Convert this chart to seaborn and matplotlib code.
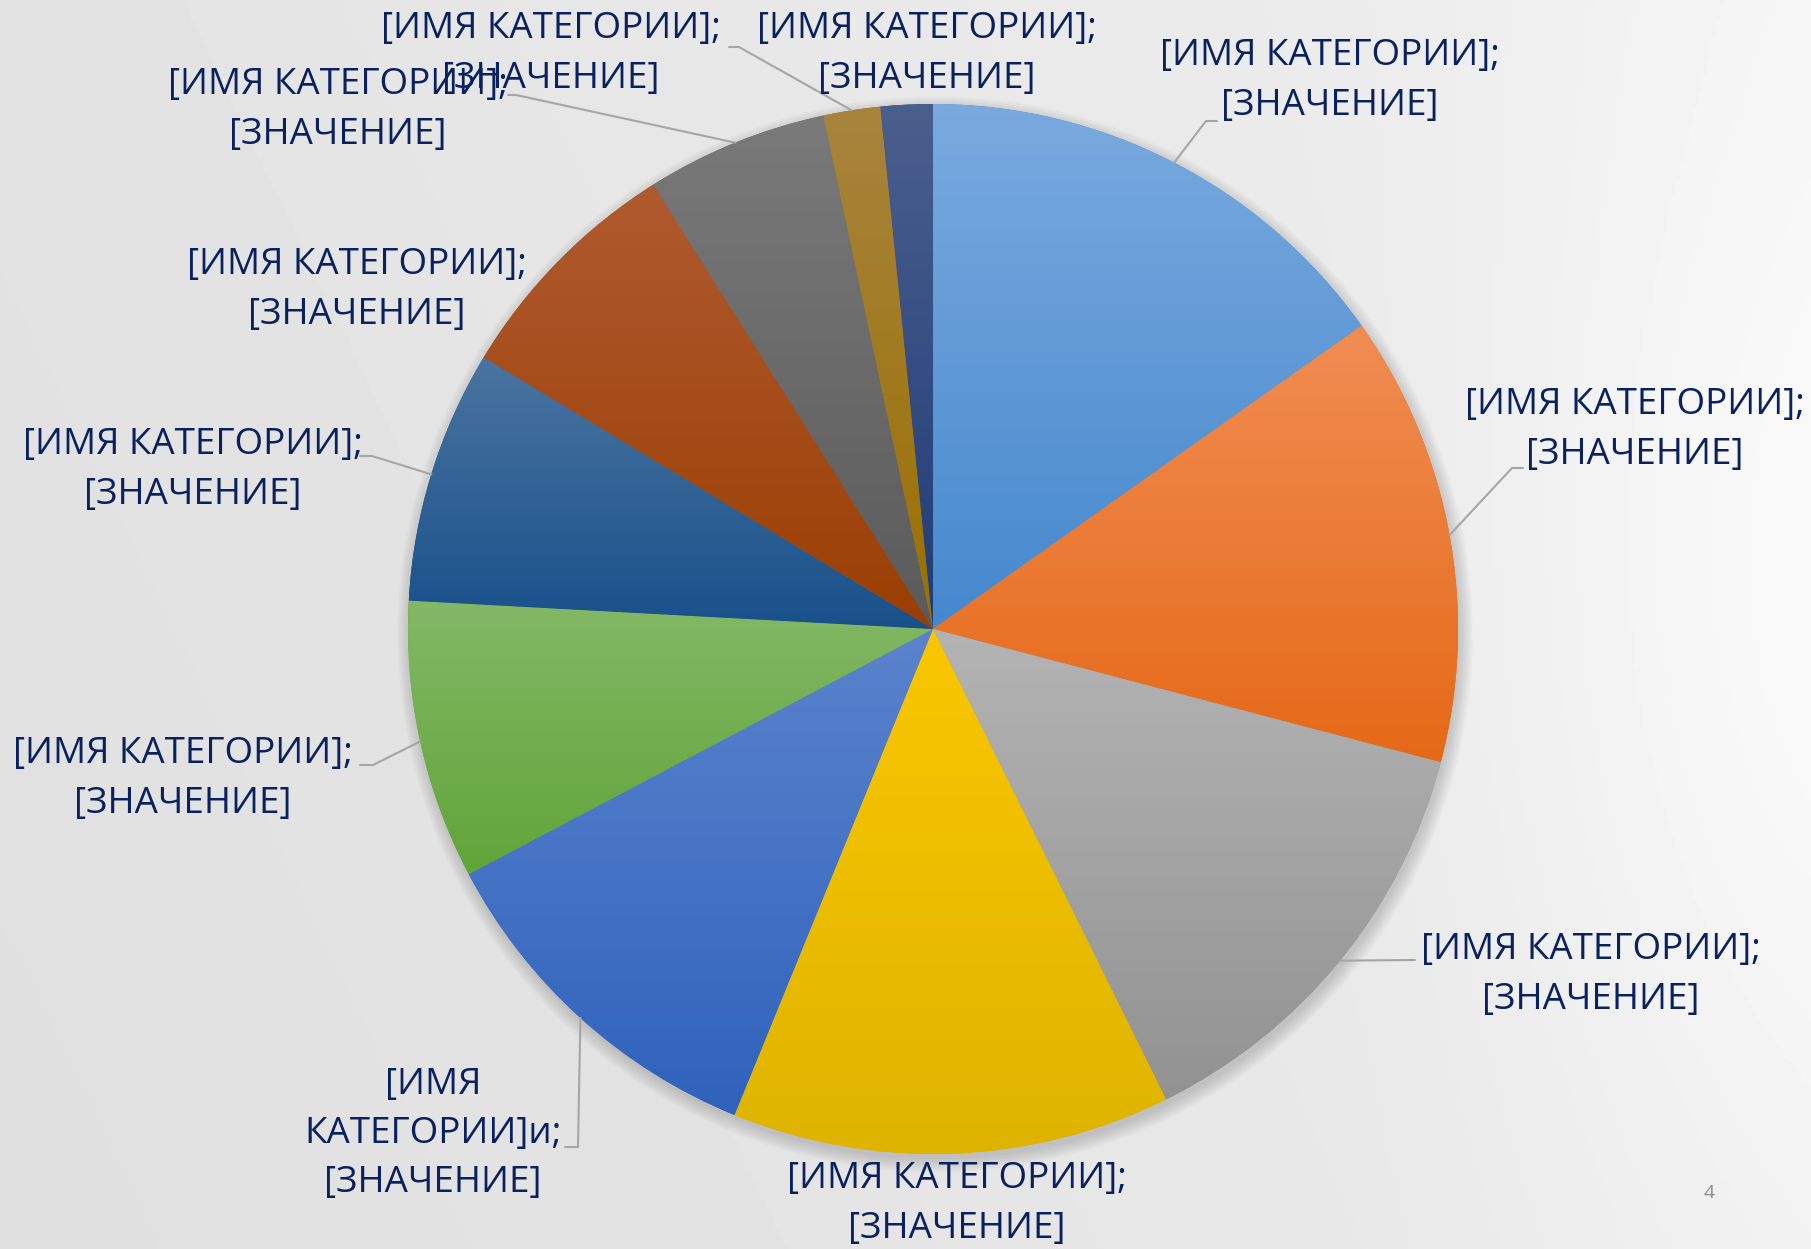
import numpy as np
import matplotlib.pyplot as plt
import matplotlib.colors as mcolors
from matplotlib.patches import Circle
import seaborn as sns

# slice values (share of the full circle)
values = [15.2, 13.9, 13.6, 13.5, 11.1, 8.6, 7.8, 7.4, 5.6, 1.75, 1.6]

# per-slice gradient colours (top -> bottom), Office palette
top_colors = ["#7aaadf", "#f18d54", "#b4b4b4", "#fac600", "#5b83cd", "#83b866",
              "#4a74a0", "#b05a30", "#7a7a7a", "#a8843e", "#4b5f8d"]
bottom_colors = ["#4588cd", "#e56917", "#929292", "#deb400", "#2f62bc", "#61a539",
                 "#18508a", "#9a3e02", "#5a5a5a", "#9a7000", "#1f3c78"]

labels = [
    "[ИМЯ КАТЕГОРИИ];\n[ЗНАЧЕНИЕ]",
    "[ИМЯ КАТЕГОРИИ];\n[ЗНАЧЕНИЕ]",
    "[ИМЯ КАТЕГОРИИ];\n[ЗНАЧЕНИЕ]",
    "[ИМЯ КАТЕГОРИИ];\n[ЗНАЧЕНИЕ]",
    "[ИМЯ\nКАТЕГОРИИ]и;\n[ЗНАЧЕНИЕ]",
    "[ИМЯ КАТЕГОРИИ];\n[ЗНАЧЕНИЕ]",
    "[ИМЯ КАТЕГОРИИ];\n[ЗНАЧЕНИЕ]",
    "[ИМЯ КАТЕГОРИИ];\n[ЗНАЧЕНИЕ]",
    "[ИМЯ КАТЕГОРИИ];\n[ЗНАЧЕНИЕ]",
    "[ИМЯ КАТЕГОРИИ];\n[ЗНАЧЕНИЕ]",
    "[ИМЯ КАТЕГОРИИ];\n[ЗНАЧЕНИЕ]",
]

# layout, in output pixels
W, H = 1811, 1249
CX, CY, R = 933, 629, 525
label_xy = [(1330, 81), (1635, 430), (1591, 975), (957, 1204), (433, 1134),
            (183, 779), (193, 470), (357, 290), (338, 110), (551, 54), (927, 54)]
# leader line: (anchor near text, elbow) or None
leaders = [((1217, 121), (1206, 121)),
           ((1523, 468), (1512, 468)),
           ((1415, 960), (1415, 960)),
           None,
           ((565, 1147), (578, 1147)),
           ((360, 765), (373, 765)),
           ((360, 456), (372, 456)),
           None,
           ((508, 95), (516, 95)),
           ((729, 47), (739, 47)),
           None]

NAVY = "#0a215f"


def px(p):
    return (p[0] - CX) / R, (CY - p[1]) / R


sns.set_theme(style="white")
plt.rcParams["font.family"] = ["Open Sans", "DejaVu Sans"]

fig = plt.figure(figsize=(W / 100, H / 100), dpi=100)

# slide background
ax_bg = fig.add_axes([0, 0, 1, 1])
xx, yy = np.meshgrid(np.linspace(0, 1, 400), np.linspace(0, 1, 300))
bg = 0.875 + 0.045 * xx + 0.02 * np.clip(xx - 0.75, 0, None) / 0.25 + 0.015 * (1 - yy)
bg += 0.03 * np.exp(-((xx - 1.0) ** 2 / 0.03 + (yy - 0.5) ** 2 / 0.2))
ax_bg.imshow(np.clip(bg, 0, 1), cmap="gray", vmin=0, vmax=1, aspect="auto",
             extent=(0, 1, 0, 1), origin="upper")
ax_bg.axis("off")

ax = fig.add_axes([0, 0, 1, 1])
ax.patch.set_alpha(0)

# soft shadow
for k in range(7):
    ax.add_patch(Circle((0.004, -0.010), 1.0 + 0.004 * k, color="black",
                        alpha=0.022, lw=0, zorder=0.5))

wedges, _ = ax.pie(values, startangle=90, counterclock=False, radius=1,
                   colors=bottom_colors, wedgeprops=dict(linewidth=0))

grad = np.linspace(1, 0, 256)[:, None]
for w, c_top, c_bot in zip(wedges, top_colors, bottom_colors):
    t = np.radians(np.linspace(w.theta1, w.theta2, 200))
    xs = np.r_[0, np.cos(t)]
    ys = np.r_[0, np.sin(t)]
    cmap = mcolors.LinearSegmentedColormap.from_list("g", [c_bot, c_top])
    im = ax.imshow(grad, cmap=cmap, vmin=0, vmax=1, aspect="auto", origin="upper",
                   extent=(xs.min(), xs.max(), ys.min(), ys.max()), zorder=2)
    im.set_clip_path(w)

# labels and leader lines
for w, lab, pos, ld in zip(wedges, labels, label_xy, leaders):
    lx, ly = px(pos)
    ax.text(lx, ly, lab, ha="center", va="center", fontsize=26.5, color=NAVY,
            linespacing=1.5, zorder=5)
    if ld is not None:
        mid = np.radians((w.theta1 + w.theta2) / 2)
        a = px(ld[0])
        e = px(ld[1])
        ax.plot([a[0], e[0], np.cos(mid)], [a[1], e[1], np.sin(mid)],
                color="#a6a6a6", lw=1.5, zorder=4, solid_joinstyle="miter")

ax.set_xlim(-CX / R, (W - CX) / R)
ax.set_ylim(-(H - CY) / R, CY / R)
ax.set_aspect("equal")
ax.axis("off")

fig.text(1709 / W, 1 - 1193 / H, "4", ha="center", va="center",
         fontsize=14, color="#8c8c8c")

fig.savefig("out.png", dpi=100)
